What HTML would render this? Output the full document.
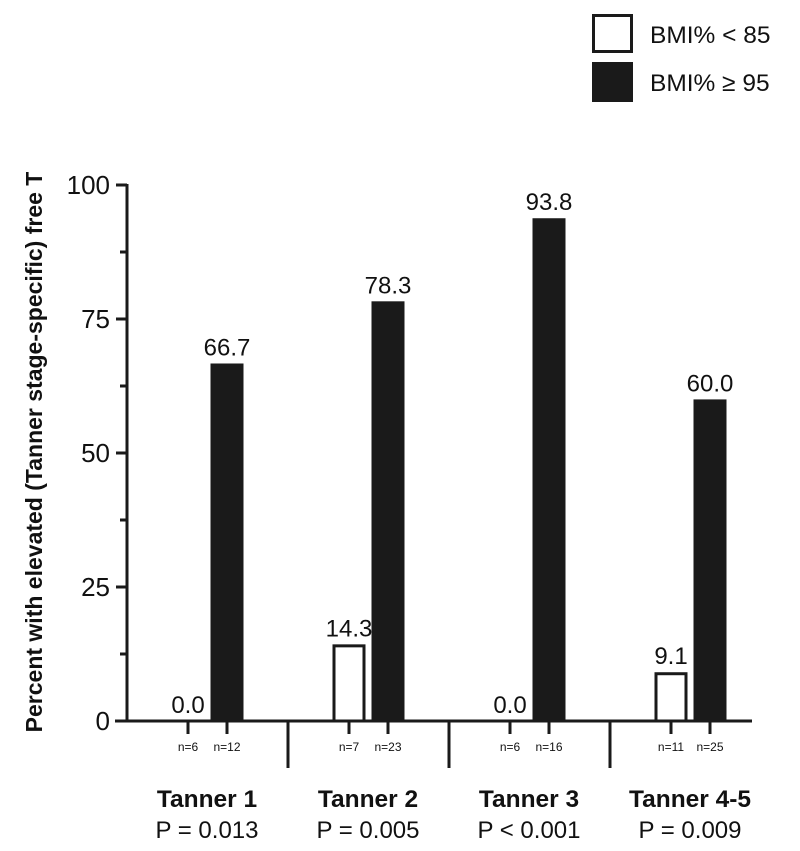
<!DOCTYPE html>
<html><head><meta charset="utf-8"><style>
body{margin:0;background:#fff;}
svg text{font-family:"Liberation Sans",Arial,sans-serif;fill:#111;}
</style></head><body>
<svg width="800" height="846" viewBox="0 0 800 846">
<g id="legend">
 <rect x="593.5" y="15.5" width="38" height="36" fill="#fff" stroke="#1a1a1a" stroke-width="3"/>
 <text x="650" y="43" font-size="24.5">BMI% &lt; 85</text>
 <rect x="592" y="62" width="41" height="40" fill="#1a1a1a"/>
 <text x="650" y="91" font-size="24.5">BMI% ≥ 95</text>
</g>
<text transform="translate(42,452) rotate(-90)" text-anchor="middle" font-size="23" font-weight="bold">Percent with elevated (Tanner stage-specific) free T</text>
<g id="chart"></g>
</svg>
<script>
const groups = ["Tanner 1","Tanner 2","Tanner 3","Tanner 4-5"];
const pvals = ["P = 0.013","P = 0.005","P < 0.001","P = 0.009"];
const lowVals = [0.0, 14.3, 0.0, 9.1];
const highVals = [66.7, 78.3, 93.8, 60.0];
const lowN = ["n=6","n=7","n=6","n=11"];
const highN = ["n=12","n=23","n=16","n=25"];
const yTicks = [0,25,50,75,100];

const NS="http://www.w3.org/2000/svg";
const g=document.getElementById('chart');
const y0=721, y100=185, axX=127;
const yS=v=>y0-(v/100)*(y0-y100);
const gx=i=>207+i*161;
const barW=33;
function el(t,a,txt){const e=document.createElementNS(NS,t);for(const k in a)e.setAttribute(k,a[k]);if(txt!==undefined)e.textContent=txt;g.appendChild(e);return e;}

let ax=el('line',{x1:axX,y1:y100-1,x2:axX,y2:y0+1.5,stroke:'#1a1a1a','stroke-width':3});


let xa=el('line',{x1:115,y1:y0,x2:752,y2:y0,stroke:'#1a1a1a','stroke-width':3});


yTicks.forEach((v,i)=>{
 let t=el('line',{x1:116,y1:yS(v),x2:axX,y2:yS(v),stroke:'#1a1a1a','stroke-width':3});
 
 
 let l=el('text',{x:110,y:yS(v)+9,'font-size':26,'text-anchor':'end'},String(v));
 
 
 if(i<yTicks.length-1){
  const m=(v+yTicks[i+1])/2;
  let mt=el('line',{x1:120,y1:yS(m),x2:axX,y2:yS(m),stroke:'#1a1a1a','stroke-width':3});
  
  
 }
});
groups.forEach((name,i)=>{
 const c=gx(i), xl=c-19, xh=c+20;
 const hl=y0-yS(lowVals[i]);
 if(hl>0){
  let b=el('rect',{x:xl-barW/2+1.5,y:yS(lowVals[i])+1.5,width:barW-3,height:hl-1.5,fill:'#fff',stroke:'#1a1a1a','stroke-width':3});
  
  
 }
 let vl=el('text',{x:xl,y:yS(lowVals[i])-8,'font-size':24,'text-anchor':'middle'},lowVals[i].toFixed(1));
 
 
 let bh=el('rect',{x:xh-barW/2,y:yS(highVals[i]),width:barW,height:y0-yS(highVals[i]),fill:'#1a1a1a'});
 
 
 let vh=el('text',{x:xh,y:yS(highVals[i])-8,'font-size':24,'text-anchor':'middle'},highVals[i].toFixed(1));
 
 
 [[xl,lowN[i]],[xh,highN[i]]].forEach(([x,n])=>{
  let t=el('line',{x1:x,y1:y0,x2:x,y2:734,stroke:'#1a1a1a','stroke-width':3});
  
  
  let nl=el('text',{x:x,y:751,'font-size':12,'text-anchor':'middle'},n);
  
  
 });
 let gl=el('text',{x:c,y:807,'font-size':24.5,'font-weight':'bold','text-anchor':'middle'},name);
 
 
 let pl=el('text',{x:c,y:838,'font-size':24,'text-anchor':'middle'},pvals[i]);
 
 
 if(i<groups.length-1){
  let s=el('line',{x1:c+81,y1:y0,x2:c+81,y2:768,stroke:'#1a1a1a','stroke-width':3});
  
  
 }
});
</script>
</body></html>
